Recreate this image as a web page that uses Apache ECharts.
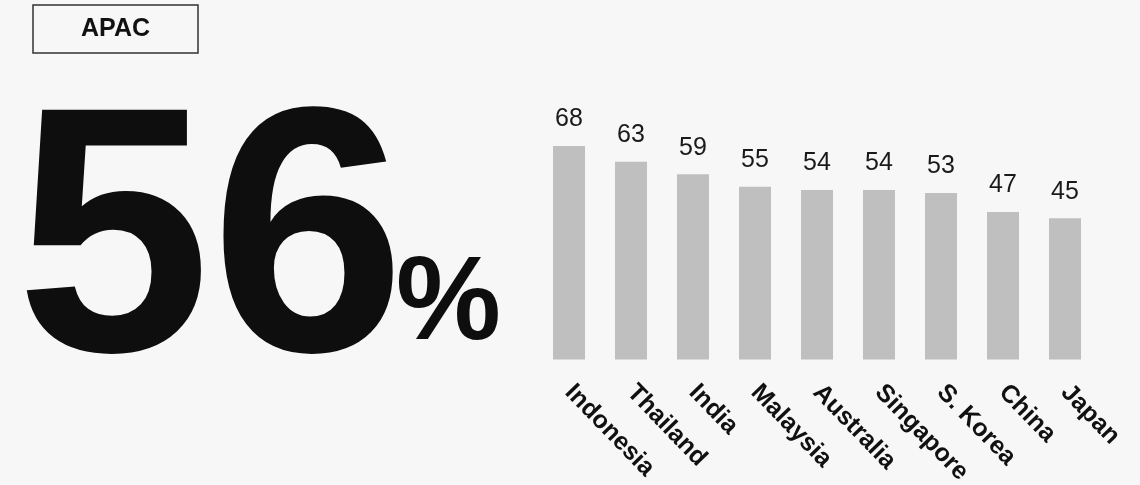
<!DOCTYPE html>
<html>
<head>
<meta charset="utf-8">
<script src="https://cdn.jsdelivr.net/npm/echarts@6/dist/echarts.min.js"></script>
<style>
  html, body { margin: 0; padding: 0; background: #f7f7f7; }
  #chart { width: 1140px; height: 485px; }
</style>
</head>
<body>
<div id="chart"></div>
<script>
// Regional headline and per-country scores
const regionName = 'APAC';
const regionScore = 56;
const countries = ['Indonesia', 'Thailand', 'India', 'Malaysia', 'Australia', 'Singapore', 'S. Korea', 'China', 'Japan'];
const scores = [68, 63, 59, 55, 54, 54, 53, 47, 45];

const FONT = "'Liberation Sans', Arial, Helvetica, sans-serif";
const chart = echarts.init(document.getElementById('chart'), null, { renderer: 'canvas' });

chart.setOption({
  backgroundColor: '#f7f7f7',
  animation: false,
  grid: {
    left: 538, right: 44, top: 45.5, bottom: 125.5,
    containLabel: false,
    outerBoundsMode: 'none'
  },
  xAxis: {
    type: 'category',
    data: countries,
    axisLine: { show: false },
    axisTick: { show: false },
    axisLabel: {
      interval: 0,
      rotate: -46,
      margin: 29,
      color: '#111',
      fontFamily: FONT,
      fontWeight: 'bold',
      fontSize: 25
    }
  },
  yAxis: {
    type: 'value',
    min: 0,
    max: 100,
    show: false,
    splitLine: { show: false }
  },
  series: [{
    type: 'bar',
    data: scores,
    barWidth: 32,
    itemStyle: { color: '#bfbfbf' },
    label: {
      show: true,
      position: 'top',
      distance: 14,
      color: '#1a1a1a',
      fontFamily: FONT,
      fontSize: 25
    }
  }],
  graphic: [
    {
      type: 'rect',
      shape: { x: 33, y: 5, width: 165, height: 48 },
      style: { fill: 'none', stroke: '#333', lineWidth: 1.5 }
    },
    {
      type: 'text',
      x: 115.5,
      y: 29.5,
      style: {
        text: regionName,
        font: 'bold 25px ' + FONT,
        fill: '#111',
        align: 'center',
        verticalAlign: 'middle'
      }
    },
    {
      type: 'text',
      x: 16,
      y: 254,
      style: {
        text: String(regionScore),
        font: 'bold 350px ' + FONT,
        fill: '#0e0e0e',
        align: 'left',
        verticalAlign: 'middle'
      }
    },
    {
      type: 'text',
      x: 396,
      y: 306,
      style: {
        text: '%',
        font: 'bold 118px ' + FONT,
        fill: '#0e0e0e',
        align: 'left',
        verticalAlign: 'middle'
      }
    }
  ]
});
</script>
</body>
</html>
